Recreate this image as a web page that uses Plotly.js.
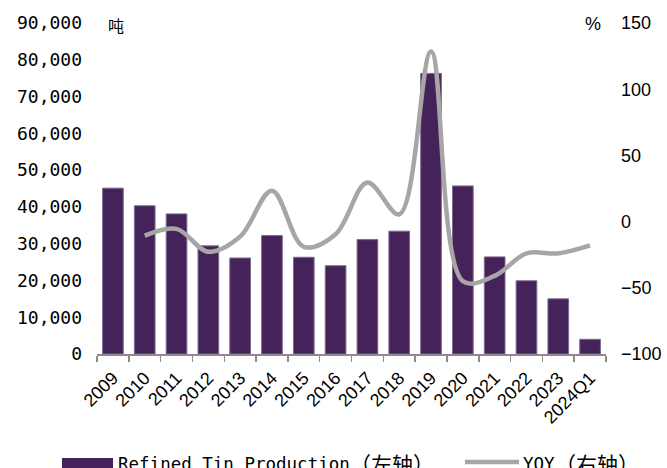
<!DOCTYPE html>
<html>
<head>
<meta charset="utf-8">
<script src="https://cdn.plot.ly/plotly-3.0.1.min.js"></script>
<style>html,body{margin:0;padding:0;background:#fff;}#chart{width:667px;height:468px;}</style>
</head>
<body>
<div id="chart"></div>
<script>
const categories = ["2009","2010","2011","2012","2013","2014","2015","2016","2017","2018","2019","2020","2021","2022","2023","2024Q1"];
const production = [45100, 40300, 38100, 29400, 26100, 32200, 26300, 24000, 31100, 33400, 76300, 45700, 26400, 19900, 15000, 4000];
const yoyCategories = ["2010","2011","2012","2013","2014","2015","2016","2017","2018","2019","2020","2021","2022","2023","2024Q1"];
const yoy = [-10.6, -5.5, -22.8, -11.3, 23.3, -19, -9.5, 29.5, 5.5, 128.5, -45, -41, -24, -24, -18];
const leftTicks = [0, 10000, 20000, 30000, 40000, 50000, 60000, 70000, 80000, 90000];
const rightTicks = [-100, -50, 0, 50, 100, 150];
const barName = 'Refined Tin Production', barAxisNote = '（左轴）';
const lineName = 'YOY', lineAxisNote = '（右轴）';

const barColor = '#45235a';
const lineColor = '#a6a6a6';
const W = 667, H = 468, L = 97, R = 61, T = 23, B = 114;
const pw = W - L - R, ph = H - T - B;
const px = x => (x - L) / pw;
const py = y => (H - B - y) / ph;

const traces = [
  {type: 'bar', x: categories, y: production, name: barName + barAxisNote,
   marker: {color: barColor, line: {color: '#7d6a8c', width: 1}}, yaxis: 'y', hoverinfo: 'skip'},
  {type: 'scatter', mode: 'lines', x: yoyCategories, y: yoy, name: lineName + lineAxisNote,
   line: {color: lineColor, width: 4.5, shape: 'spline', smoothing: 1}, yaxis: 'y2', hoverinfo: 'skip'}
];

const monoFont = 'DejaVu Sans Mono, Noto Sans CJK SC, sans-serif';
const cjkFont = 'Noto Sans CJK SC, sans-serif';
const layout = {
  width: W, height: H,
  margin: {l: L, r: R, t: T, b: B, pad: 0},
  paper_bgcolor: '#fff', plot_bgcolor: '#fff',
  showlegend: false,
  bargap: 0.35,
  xaxis: {type: 'category', categoryorder: 'array', categoryarray: categories,
    showline: true, linecolor: '#8c8c8c', linewidth: 1.5,
    ticks: 'outside', ticklen: 6, tickcolor: '#8c8c8c', tickwidth: 1.5, tickson: 'boundaries',
    tickangle: -45, ticklabelstandoff: 5, tickfont: {family: 'Liberation Sans, Arial', size: 18, color: '#000'},
    showgrid: false, zeroline: false, fixedrange: true},
  yaxis: {range: [0, 90000], tickvals: leftTicks, tickformat: ',', showgrid: false, zeroline: false,
    showline: false, ticks: '', ticklabelstandoff: 14,
    tickfont: {family: monoFont, size: 18, color: '#000'}},
  yaxis2: {range: [-100, 150], tickvals: rightTicks, overlaying: 'y', side: 'right',
    showgrid: false, zeroline: false, showline: false, ticks: '', ticklabelstandoff: 14,
    tickfont: {family: 'Liberation Sans, Arial', size: 18, color: '#000'}},
  shapes: [
    {type: 'rect', xref: 'paper', yref: 'paper', x0: px(62), x1: px(113), y0: py(458), y1: py(472),
     fillcolor: barColor, line: {width: 0}},
    {type: 'line', xref: 'paper', yref: 'paper', x0: px(465), x1: px(519), y0: py(462), y1: py(462),
     line: {color: lineColor, width: 4.5}}
  ],
  annotations: [
    {xref: 'paper', yref: 'paper', x: px(106), y: py(25), text: '吨', showarrow: false,
     xanchor: 'left', yanchor: 'middle', font: {family: cjkFont, size: 16, color: '#000'}},
    {xref: 'paper', yref: 'paper', x: px(603), y: py(24), text: '%', showarrow: false,
     xanchor: 'right', yanchor: 'middle', font: {family: 'Liberation Sans, Arial', size: 18, color: '#000'}},
    {xref: 'paper', yref: 'paper', x: px(116), y: py(464), text: barName,
     showarrow: false, xanchor: 'left', yanchor: 'middle', font: {family: monoFont, size: 17.5, color: '#000'}},
    {xref: 'paper', yref: 'paper', x: px(348), y: py(463), text: barAxisNote,
     showarrow: false, xanchor: 'left', yanchor: 'middle', font: {family: cjkFont, size: 21, color: '#000'}},
    {xref: 'paper', yref: 'paper', x: px(521), y: py(464), text: lineName,
     showarrow: false, xanchor: 'left', yanchor: 'middle', font: {family: monoFont, size: 17.5, color: '#000'}},
    {xref: 'paper', yref: 'paper', x: px(553), y: py(463), text: lineAxisNote,
     showarrow: false, xanchor: 'left', yanchor: 'middle', font: {family: cjkFont, size: 21, color: '#000'}}
  ]
};

Plotly.newPlot('chart', traces, layout, {displayModeBar: false, staticPlot: true});
</script>
</body>
</html>
